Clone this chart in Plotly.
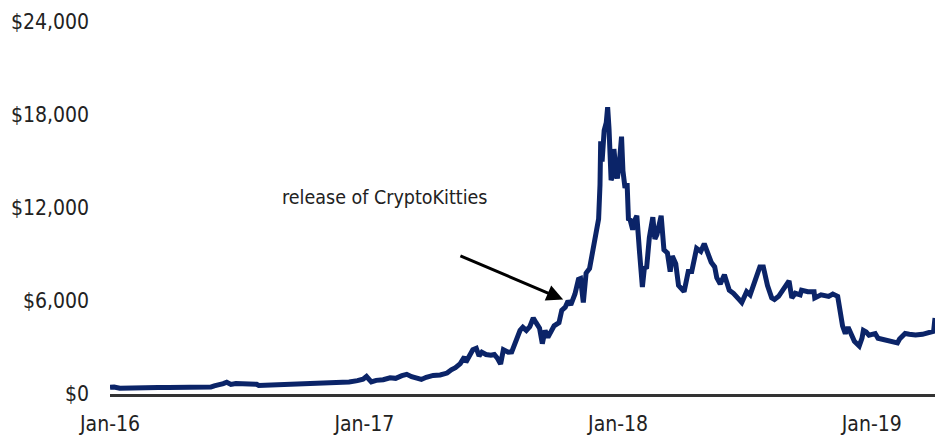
import plotly.graph_objects as go

dates = [
    "2016-01-01", "2016-01-07", "2016-01-15", "2016-01-25", "2016-02-05", "2016-02-15", "2016-02-21",
    "2016-02-28", "2016-03-10", "2016-03-25", "2016-04-10", "2016-04-25", "2016-05-10", "2016-05-25",
    "2016-05-30", "2016-06-05", "2016-06-12", "2016-06-17", "2016-06-23", "2016-06-30", "2016-07-15",
    "2016-07-30", "2016-08-02", "2016-08-15", "2016-08-31", "2016-09-15", "2016-09-30", "2016-10-15",
    "2016-10-28", "2016-11-10", "2016-11-25", "2016-12-10", "2016-12-22", "2016-12-30",
    "2017-01-04", "2017-01-11", "2017-01-18", "2017-01-28", "2017-02-07", "2017-02-15", "2017-02-24",
    "2017-03-03", "2017-03-10", "2017-03-18", "2017-03-24", "2017-03-31", "2017-04-10", "2017-04-20",
    "2017-04-30", "2017-05-06", "2017-05-12", "2017-05-19", "2017-05-25", "2017-05-27", "2017-06-01",
    "2017-06-06", "2017-06-11", "2017-06-15", "2017-06-19", "2017-06-25", "2017-07-02", "2017-07-07",
    "2017-07-11", "2017-07-16", "2017-07-20", "2017-07-27", "2017-08-01", "2017-08-07", "2017-08-13",
    "2017-08-17", "2017-08-22", "2017-08-27", "2017-09-01", "2017-09-05", "2017-09-10", "2017-09-14",
    "2017-09-18", "2017-09-22", "2017-09-28", "2017-10-01", "2017-10-08", "2017-10-12", "2017-10-17",
    "2017-10-21", "2017-10-25", "2017-10-31", "2017-11-05", "2017-11-08", "2017-11-12", "2017-11-16",
    "2017-11-21", "2017-11-26", "2017-11-28", "2017-12-01", "2017-12-04", "2017-12-06", "2017-12-07",
    "2017-12-09", "2017-12-12", "2017-12-15", "2017-12-17", "2017-12-19", "2017-12-22", "2017-12-24",
    "2017-12-26", "2017-12-29", "2017-12-31",
    "2018-01-03", "2018-01-06", "2018-01-08", "2018-01-11", "2018-01-14", "2018-01-16", "2018-01-18",
    "2018-01-22", "2018-01-25", "2018-01-28", "2018-02-01", "2018-02-05", "2018-02-08", "2018-02-11",
    "2018-02-15", "2018-02-20", "2018-02-23", "2018-02-26", "2018-03-04", "2018-03-08", "2018-03-13",
    "2018-03-17", "2018-03-20", "2018-03-25", "2018-03-29", "2018-04-01", "2018-04-06", "2018-04-12",
    "2018-04-17", "2018-04-24", "2018-04-30", "2018-05-05", "2018-05-10", "2018-05-15", "2018-05-20",
    "2018-05-23", "2018-05-28", "2018-06-03", "2018-06-10", "2018-06-16", "2018-06-24", "2018-06-28",
    "2018-07-05", "2018-07-10", "2018-07-17", "2018-07-24", "2018-07-29", "2018-08-04", "2018-08-10",
    "2018-08-14", "2018-08-20", "2018-08-26", "2018-09-04", "2018-09-08", "2018-09-13", "2018-09-20",
    "2018-09-22", "2018-10-01", "2018-10-10", "2018-10-11", "2018-10-20", "2018-10-31", "2018-11-06",
    "2018-11-13", "2018-11-15", "2018-11-19", "2018-11-20", "2018-11-24", "2018-11-28", "2018-12-03",
    "2018-12-07", "2018-12-14", "2018-12-18", "2018-12-20", "2018-12-24", "2018-12-28",
    "2019-01-06", "2019-01-10", "2019-01-20", "2019-01-28", "2019-02-07", "2019-02-10", "2019-02-18",
    "2019-02-24", "2019-03-05", "2019-03-15", "2019-03-25", "2019-03-31", "2019-04-02",
]

prices = [
    430, 455, 375, 395, 385, 405, 440,
    430, 415, 415, 420, 460, 455, 445,
    530, 575, 670, 760, 620, 670, 660,
    625, 550, 570, 575, 610, 610, 640,
    690, 715, 740, 770, 860, 960,
    1130, 780, 880, 920, 1050, 1010, 1180,
    1270, 1120, 970, 940, 1080, 1200, 1230,
    1350, 1560, 1700, 1960, 2400, 2050, 2400,
    2860, 2950, 2450, 2700, 2550, 2500, 2550,
    2330, 1930, 2860, 2700, 2720, 3400, 4100,
    4300, 4100, 4350, 4900, 4600, 4250, 3250,
    4100, 3650, 4200, 4400, 4600, 5400, 5600,
    6000, 5750, 6450, 7400, 7450, 5900, 7800,
    8100, 9300, 9900, 10900, 11300, 13500, 16300,
    15000, 17000, 17500, 18500, 17100, 13800, 14000,
    15800, 14400, 13900,
    15000, 16600, 14400, 13300, 13600, 11200, 11300,
    10600, 11200, 11500, 9100, 6900, 8200, 8100,
    10100, 11400, 10000, 10300, 11500, 9300, 9100,
    7900, 8900, 8400, 7000, 6800, 6600, 7900,
    7900, 9400, 9200, 9700, 9000, 8500, 8200,
    7500, 7100, 7700, 6700, 6500, 6100, 5900,
    6600, 6400, 7300, 8200, 8200, 7000, 6200,
    6100, 6300, 6700, 7300, 6200, 6500, 6400,
    6700, 6600, 6600, 6200, 6400, 6300, 6450,
    6300, 5600, 4800, 4400, 3900, 4300, 3800,
    3400, 3100, 3600, 4100, 4000, 3800,
    3900, 3600, 3500, 3450, 3300, 3550, 3900,
    3850, 3800, 3850, 3950, 4050, 4900,
]

y_ticks = [0, 6000, 12000, 18000, 24000]
y_ticktext = ["$0", "$6,000", "$12,000", "$18,000", "$24,000"]
x_ticks = ["2016-01-01", "2017-01-01", "2018-01-01", "2019-01-01"]
x_ticktext = ["Jan-16", "Jan-17", "Jan-18", "Jan-19"]

annotation_text = "release of CryptoKitties"

FONT = "DejaVu Sans Condensed, Liberation Sans Narrow, Liberation Sans, sans-serif"

fig = go.Figure()
fig.add_trace(go.Scatter(
    x=dates, y=prices, mode="lines",
    line=dict(color="#0B2468", width=5),
    showlegend=False, hoverinfo="skip",
))

fig.add_annotation(
    x="2017-10-14", y=6100, ax="2017-05-17", ay=8950,
    xref="x", yref="y", axref="x", ayref="y",
    text="", showarrow=True, arrowhead=2, arrowsize=1.1, arrowwidth=3, arrowcolor="#000000",
)
fig.add_annotation(
    x="2017-01-31", y=12710, xref="x", yref="y",
    text=annotation_text, showarrow=False,
    font=dict(family=FONT, size=19.5, color="#222222"),
)

fig.update_layout(
    width=935, height=436,
    margin=dict(l=110, r=0, t=22, b=42),
    paper_bgcolor="white", plot_bgcolor="white",
    font=dict(family=FONT, size=21, color="#222222"),
)
fig.update_xaxes(
    type="date", range=["2016-01-01", "2019-04-02"],
    tickvals=x_ticks, ticktext=x_ticktext,
    showgrid=False, zeroline=False, ticks="",
    showline=True, linecolor="#333333", linewidth=3,
    automargin=False, ticklabelstandoff=9,
    tickfont=dict(family=FONT, size=21, color="#222222"),
)
fig.update_yaxes(
    range=[0, 24000], tickvals=y_ticks, ticktext=y_ticktext,
    showgrid=False, zeroline=False, ticks="", showline=False,
    automargin=False, ticklabelstandoff=20,
    tickfont=dict(family=FONT, size=21, color="#222222"),
)

fig.write_html(
    "out.html",
    config={"displayModeBar": False},
    post_script="document.body.style.margin='0';document.body.style.overflow='hidden';",
)
